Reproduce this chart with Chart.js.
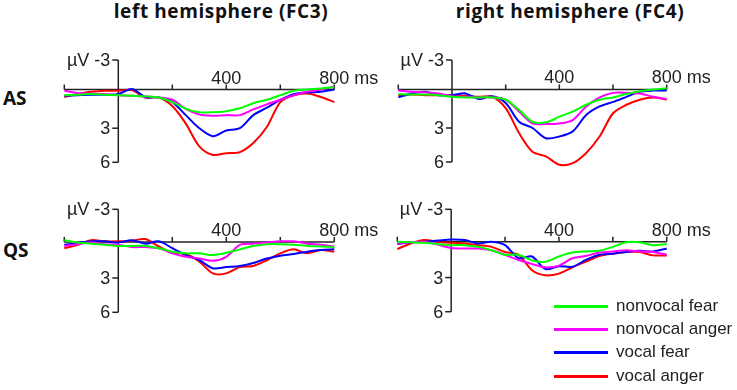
<!DOCTYPE html>
<html>
<head>
<meta charset="utf-8">
<script src="https://cdn.jsdelivr.net/npm/chart.js@4.4.1/dist/chart.umd.min.js"></script>
<style>
  body { margin: 0; background: #fff; }
  #wrap { position: relative; width: 737px; height: 390px; overflow: hidden; background: #fff; }
  #wrap canvas { position: absolute; left: 0; top: 0; }
  .title { position: absolute; top: 1px; font: bold 19px "Open Sans", sans-serif; line-height: 20px; letter-spacing: 0.6px; color: #111; white-space: nowrap; transform: translateX(-50%); }
  .cond { position: absolute; left: 3px; font: bold 19px "Open Sans", sans-serif; line-height: 20px; color: #111; }
  .leg { position: absolute; left: 554px; width: 200px; height: 20px; }
  .leg span.sw { position: absolute; left: 0; top: 9px; width: 54px; height: 3px; }
  .leg span.tx { position: absolute; left: 62px; top: 0; font: 17px "Liberation Sans", Arial, sans-serif; color: #222; line-height: 20px; white-space: nowrap; }
</style>
</head>
<body>
<div id="wrap">
  <div class="title" style="left:221px">left hemisphere (FC3)</div>
  <div class="title" style="left:570px">right hemisphere (FC4)</div>
  <div class="cond" style="top:88px">AS</div>
  <div class="cond" style="top:240px">QS</div>
  <canvas id="c0" width="737" height="390"></canvas>
  <canvas id="c1" width="737" height="390"></canvas>
  <canvas id="c2" width="737" height="390"></canvas>
  <canvas id="c3" width="737" height="390"></canvas>
</div>
<script>
// time points (ms)
const times = [-200, -150, -100, -50, 0, 50, 100, 150, 200, 250, 300, 350, 400, 450, 500, 550, 600, 650, 700, 750, 800];

const seriesNames = ['nonvocal fear', 'nonvocal anger', 'vocal fear', 'vocal anger'];
const seriesColors = ['#00ff00', '#ff00ff', '#0000ff', '#ff0000'];

const yTicks = [-3, 3, 6];
const yTickLabels = ['\u00b5V -3', '3', '6'];
const xTicks = [-200, 200, 400, 600, 800];
const xLabelTicks = [400, 800];
const xLabelText = ['400', '800'];

// AS, left hemisphere (FC3), µV
const asFC3NonvocalFear  = [0.1, 0.05, 0.0, 0.05, 0.1, 0.15, 0.2, 0.3, 0.7, 1.3, 1.6, 1.6, 1.5, 1.25, 0.8, 0.5, 0.1, -0.3, -0.4, -0.5, -0.6];
const asFC3NonvocalAnger = [-0.3, -0.1, -0.05, 0.0, 0.1, 0.15, 0.2, 0.3, 0.5, 1.3, 1.8, 1.9, 1.85, 1.85, 1.35, 0.9, 0.5, 0.1, -0.2, -0.4, -0.65];
const asFC3VocalFear     = [0.15, 0.1, 0.05, 0.05, 0.0, -0.45, 0.25, 0.3, 0.7, 1.85, 3.0, 3.7, 3.2, 3.0, 1.85, 1.2, 0.5, 0.0, -0.15, -0.2, -0.4];
const asFC3VocalAnger    = [0.25, 0.0, -0.2, -0.3, -0.3, -0.35, 0.3, 0.3, 1.05, 2.6, 4.6, 5.35, 5.2, 5.1, 4.3, 2.9, 0.7, 0.1, -0.05, 0.25, 0.7];

// AS, right hemisphere (FC4)
const asFC4NonvocalFear  = [0.0, 0.05, 0.05, 0.1, 0.25, 0.3, 0.3, 0.3, 0.5, 1.4, 2.45, 2.5, 2.0, 1.55, 0.95, 0.5, 0.3, 0.0, -0.25, -0.4, -0.5];
const asFC4NonvocalAnger = [-0.3, -0.2, -0.15, -0.05, 0.2, 0.25, 0.3, 0.3, 0.5, 1.55, 2.6, 2.65, 2.6, 2.3, 1.1, 0.3, -0.1, -0.1, -0.05, 0.25, 0.45];
const asFC4VocalFear     = [0.3, -0.05, -0.2, 0.1, 0.1, -0.05, 0.45, 0.2, 0.8, 2.45, 3.0, 3.9, 3.75, 3.3, 1.85, 1.1, 0.7, 0.25, -0.2, -0.3, -0.3];
const asFC4VocalAnger    = [0.1, 0.05, 0.1, 0.1, 0.1, 0.15, 0.25, 0.25, 1.25, 3.45, 5.1, 5.5, 6.25, 6.1, 5.2, 3.75, 1.7, 0.95, 0.5, 0.3, 0.5];

// QS, left hemisphere (FC3)
const qsFC3NonvocalFear  = [-0.3, -0.1, 0.0, 0.1, 0.2, 0.2, 0.2, 0.4, 0.7, 0.85, 0.85, 1.0, 0.8, 0.5, 0.2, 0.05, 0.05, 0.1, 0.2, 0.25, 0.3];
const qsFC3NonvocalAnger = [0.2, 0.05, -0.1, 0.05, 0.1, 0.3, 0.3, 0.4, 0.85, 1.15, 1.3, 1.5, 1.15, 0.1, 0.0, -0.1, -0.2, -0.2, 0.0, 0.1, 0.25];
const qsFC3VocalFear     = [0.1, -0.05, -0.2, -0.2, -0.1, -0.3, 0.0, -0.2, 0.4, 1.0, 1.45, 2.15, 2.05, 1.95, 1.7, 1.3, 1.05, 0.9, 0.7, 0.55, 0.5];
const qsFC3VocalAnger    = [0.4, 0.1, -0.3, -0.2, -0.2, -0.25, -0.4, 0.25, 0.8, 0.9, 1.55, 2.6, 2.6, 2.05, 1.95, 1.45, 0.85, 0.5, 0.85, 0.55, 0.7];

// QS, right hemisphere (FC4)
const qsFC4NonvocalFear  = [-0.15, -0.1, -0.05, 0.05, 0.15, 0.15, 0.3, 0.6, 1.0, 1.0, 1.5, 1.6, 1.15, 0.8, 0.7, 0.65, 0.3, -0.1, -0.1, 0.15, 0.05];
const qsFC4NonvocalAnger = [0.0, -0.1, -0.15, 0.1, 0.4, 0.45, 0.45, 0.6, 1.0, 1.45, 1.8, 2.1, 1.95, 1.3, 1.1, 0.8, 0.7, 0.6, 0.7, 0.75, 1.0];
const qsFC4VocalFear     = [0.05, -0.1, -0.15, -0.25, -0.35, -0.3, 0.0, -0.15, 0.15, 1.3, 1.15, 2.25, 2.0, 2.05, 1.45, 1.0, 0.9, 0.75, 0.65, 0.7, 0.45];
const qsFC4VocalAnger    = [0.5, 0.0, -0.3, -0.15, -0.05, 0.0, 0.15, 0.3, 0.75, 1.0, 2.35, 2.8, 2.65, 2.1, 1.6, 1.1, 0.9, 0.75, 0.75, 1.05, 1.05];

const panelData = [
  [asFC3NonvocalFear, asFC3NonvocalAnger, asFC3VocalFear, asFC3VocalAnger],
  [asFC4NonvocalFear, asFC4NonvocalAnger, asFC4VocalFear, asFC4VocalAnger],
  [qsFC3NonvocalFear, qsFC3NonvocalAnger, qsFC3VocalFear, qsFC3VocalAnger],
  [qsFC4NonvocalFear, qsFC4NonvocalAnger, qsFC4VocalFear, qsFC4VocalAnger],
];

// plot boxes on the page: left, right, top, bottom (px) and where the time axis sits (µV)
const panelBox = [
  { l: 64.3, r: 334.3, t: 60, b: 162.3, axisAt: -0.4 },
  { l: 398.3, r: 666.7, t: 60, b: 162, axisAt: -0.4 },
  { l: 64.3, r: 334.3, t: 209.3, b: 312.3, axisAt: -0.15 },
  { l: 397.3, r: 666.7, t: 209.3, b: 311.7, axisAt: -0.15 },
];

const W = 737, H = 390;

// axes drawn ERP style, through the chart's scales
const erpAxes = {
  id: 'erpAxes',
  beforeDatasetsDraw(chart, args, opts) {
    const ctx = chart.ctx;
    const xs = chart.scales.x, ys = chart.scales.y;
    const x0 = xs.getPixelForValue(0);
    const yA = ys.getPixelForValue(opts.axisAt);
    ctx.save();
    ctx.strokeStyle = '#222';
    ctx.lineWidth = 1.5;
    ctx.fillStyle = '#222';
    ctx.font = '18px "Liberation Sans", Arial, sans-serif';

    // vertical µV axis
    ctx.beginPath();
    ctx.moveTo(x0, ys.getPixelForValue(-3));
    ctx.lineTo(x0, ys.getPixelForValue(6));
    ctx.stroke();
    ctx.textAlign = 'right';
    ctx.textBaseline = 'middle';
    yTicks.forEach((v, i) => {
      const py = ys.getPixelForValue(v);
      ctx.beginPath();
      ctx.moveTo(x0 - 6, py);
      ctx.lineTo(x0, py);
      ctx.stroke();
      ctx.fillText(yTickLabels[i], x0 - 8, py + 1);
    });

    // time axis
    ctx.beginPath();
    ctx.moveTo(xs.getPixelForValue(-200), yA);
    ctx.lineTo(xs.getPixelForValue(800), yA);
    ctx.stroke();
    xTicks.forEach(v => {
      const px = xs.getPixelForValue(v);
      ctx.beginPath();
      ctx.moveTo(px, yA);
      ctx.lineTo(px, yA - 5);
      ctx.stroke();
    });
    ctx.textAlign = 'left';
    xLabelTicks.forEach((v, i) => {
      const px = xs.getPixelForValue(v);
      const w = ctx.measureText(xLabelText[i]).width;
      const txt = v === 800 ? xLabelText[i] + ' ms' : xLabelText[i];
      ctx.fillText(txt, px - w / 2, yA - 11);
    });
    ctx.restore();
  }
};

panelData.forEach((series, p) => {
  const box = panelBox[p];
  new Chart(document.getElementById('c' + p), {
    type: 'line',
    data: {
      datasets: series.map((vals, k) => ({
        label: seriesNames[k],
        data: times.map((t, i) => ({ x: t, y: vals[i] })),
        borderColor: seriesColors[k],
        borderWidth: 2,
        pointRadius: 0,
        tension: 0.3,
        fill: false,
        clip: false,
      })),
    },
    options: {
      responsive: false,
      animation: false,
      events: [],
      layout: {
        padding: { left: box.l, right: W - box.r, top: box.t, bottom: H - box.b },
      },
      scales: {
        x: { type: 'linear', min: -200, max: 800, display: false },
        y: { type: 'linear', min: -3, max: 6, reverse: true, display: false },
      },
      plugins: {
        legend: { display: false },
        tooltip: { enabled: false },
        erpAxes: { axisAt: box.axisAt },
      },
    },
    plugins: [erpAxes],
  });
});

// legend, lower right
const legendTop = [296, 319, 342, 366];
const wrap = document.getElementById('wrap');
seriesNames.forEach((name, k) => {
  const d = document.createElement('div');
  d.className = 'leg';
  d.style.top = legendTop[k] + 'px';
  d.innerHTML = '<span class="sw" style="background:' + seriesColors[k] + '"></span><span class="tx">' + name + '</span>';
  wrap.appendChild(d);
});
</script>
</body>
</html>
